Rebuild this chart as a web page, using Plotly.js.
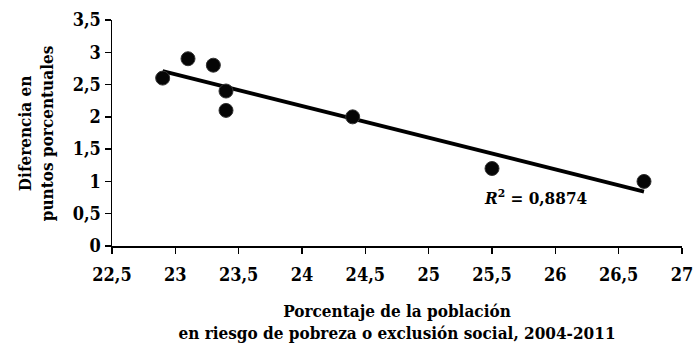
<!DOCTYPE html>
<html><head><meta charset="utf-8">
<script src="https://cdn.plot.ly/plotly-3.0.1.min.js"></script>
<style>html,body{margin:0;padding:0;background:#fff}#c{width:697px;height:343px}</style>
</head><body><div id="c"></div>
<script>
const xVals = [22.9, 23.1, 23.3, 23.4, 23.4, 24.4, 25.5, 26.7];
const yVals = [2.6, 2.9, 2.8, 2.4, 2.1, 2.0, 1.2, 1.0];
const xTicks = [22.5, 23, 23.5, 24, 24.5, 25, 25.5, 26, 26.5, 27];
const yTicks = [0, 0.5, 1, 1.5, 2, 2.5, 3, 3.5];
const r2Label = '<b><i>R</i><sup>2</sup> = 0,8874</b>';
const xTitle = '<b>Porcentaje de la población<br>en riesgo de pobreza o exclusión social, 2004-2011</b>';
const yTitle = '<b>Diferencia en<br>puntos porcentuales</b>';

// linear regression (trendline)
const n = xVals.length;
const mx = xVals.reduce((a,b)=>a+b,0)/n, my = yVals.reduce((a,b)=>a+b,0)/n;
let sxy=0,sxx=0; for(let i=0;i<n;i++){sxy+=(xVals[i]-mx)*(yVals[i]-my);sxx+=(xVals[i]-mx)**2;}
const slope=sxy/sxx, icpt=my-slope*mx;
const xmin=Math.min(...xVals), xmax=Math.max(...xVals);
const lineX=[xmin,xmax], lineY=lineX.map(x=>icpt+slope*x);

const FONT = '"DejaVu Serif Condensed", "DejaVu Serif", serif';
const fmt = v => '<b>' + String(v).replace('.', ',') + '</b>';

Plotly.newPlot('c', [
  {x: lineX, y: lineY, mode: 'lines', line: {color: '#000', width: 3.8}, hoverinfo: 'skip'},
  {x: xVals, y: yVals, mode: 'markers',
   marker: {size: 14, color: '#050505', line: {color: '#333', width: 1}}}
], {
  width: 697, height: 343,
  margin: {l: 112, r: 15, t: 20, b: 97},
  showlegend: false,
  paper_bgcolor: '#fff', plot_bgcolor: '#fff',
  font: {family: FONT, size: 18, color: '#000', weight: 700},
  xaxis: {range: [22.5, 27], tickvals: xTicks, ticktext: xTicks.map(fmt),
    showgrid: false, zeroline: false, showline: true, linecolor: '#000', linewidth: 1.5,
    ticks: 'outside', ticklen: 6, tickwidth: 1.5, tickcolor: '#000', ticklabelstandoff: 6,
    tickfont: {family: FONT, size: 18, color: '#000', weight: 700},
    title: {text: xTitle, font: {family: FONT, size: 17}, standoff: 27}},
  yaxis: {range: [0, 3.5], tickvals: yTicks, ticktext: yTicks.map(fmt),
    showgrid: false, zeroline: false, showline: true, linecolor: '#000', linewidth: 1.5,
    ticks: 'outside', ticklen: 6, tickwidth: 1.5, tickcolor: '#000',
    tickfont: {family: FONT, size: 18, color: '#000', weight: 700}},
  annotations: [
    {x: 25.85, y: 0.76, xref: 'x', yref: 'y', text: r2Label, showarrow: false,
     font: {family: FONT, size: 17}},
    {x: -0.133, y: 0.5, xref: 'paper', yref: 'paper', text: yTitle, showarrow: false,
     textangle: -90, xanchor: 'center', yanchor: 'middle', font: {family: FONT, size: 17}}
  ]
}, {displayModeBar: false, staticPlot: true});
</script></body></html>
